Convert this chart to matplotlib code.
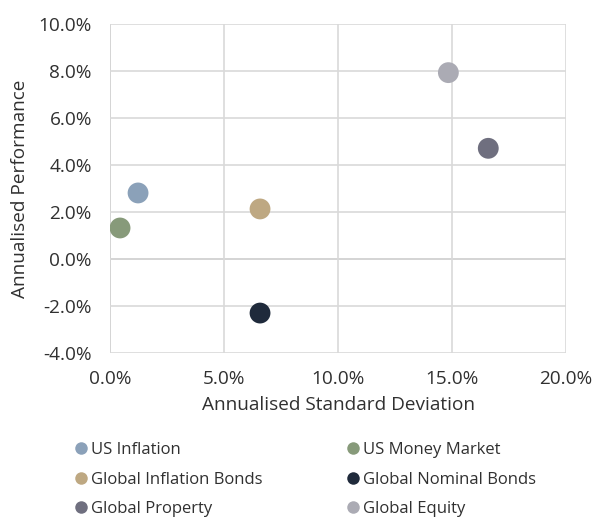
import matplotlib.pyplot as plt
from matplotlib.ticker import FuncFormatter
from matplotlib.lines import Line2D

plt.rcParams['font.family'] = ['Open Sans', 'DejaVu Sans']

# series (annualised std dev %, annualised performance %)
names = ["US Inflation", "US Money Market", "Global Inflation Bonds",
         "Global Nominal Bonds", "Global Property", "Global Equity"]
std_dev = [1.23, 0.44, 6.58, 6.58, 16.59, 14.84]
perf = [2.81, 1.32, 2.13, -2.30, 4.71, 7.93]
colors = ["#8BA1B9", "#879A7A", "#BEA882", "#1F2A3B", "#6F6F7F", "#ABABB4"]

x_ticks = [0, 5, 10, 15, 20]
y_ticks = [-4, -2, 0, 2, 4, 6, 8, 10]

text_col = "#303030"

fig = plt.figure(figsize=(5.94, 5.17), dpi=100)
ax = fig.add_axes([0.1852, 0.3172, 0.9529 - 0.1852, 0.9536 - 0.3172])

for x, y, c, n in zip(std_dev, perf, colors, names):
    ax.scatter(x, y, s=225, color=c, edgecolors="none", zorder=3, label=n)

ax.set_xlim(0, 20)
ax.set_ylim(-4, 10)
ax.set_xticks(x_ticks)
ax.set_yticks(y_ticks)
pct = FuncFormatter(lambda v, p: f"{v:.1f}%")
ax.xaxis.set_major_formatter(pct)
ax.yaxis.set_major_formatter(pct)
ax.grid(True, color="#D9D9D9", linewidth=1.2, zorder=0)
ax.axhline(0, color="#BFBFBF", linewidth=1.3, zorder=1)
ax.axvline(0, color="#BFBFBF", linewidth=1.3, zorder=1)
for s in ax.spines.values():
    s.set_visible(False)
ax.tick_params(length=0, labelsize=13.7, colors=text_col)
ax.tick_params(axis="y", pad=13)
ax.tick_params(axis="x", pad=12)

ax.set_xlabel("Annualised Standard Deviation", fontsize=13.7, color=text_col, labelpad=6)
ax.set_ylabel("Annualised Performance", fontsize=13.7, color=text_col, labelpad=7)

# legend: rows of two, filled column-first by matplotlib
order = [0, 2, 4, 1, 3, 5]
handles = [Line2D([], [], marker="o", linestyle="none", markersize=9,
                  markerfacecolor=colors[i], markeredgecolor="none") for i in order]
labels = [names[i] for i in order]
fig.legend(handles, labels, ncol=2, loc="upper left", bbox_to_anchor=(0.108, 0.158),
           frameon=False, fontsize=12, labelcolor=text_col, handletextpad=0.0,
           handlelength=1.2, columnspacing=4.85, labelspacing=0.82,
           borderaxespad=0)

fig.savefig("out.png", dpi=100)
